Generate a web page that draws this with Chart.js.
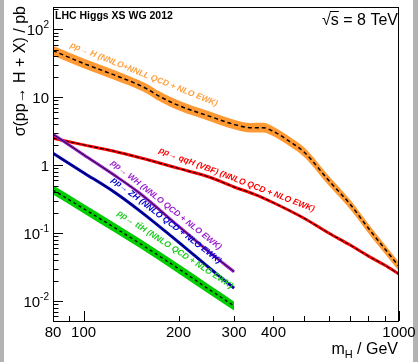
<!DOCTYPE html>
<html>
<head>
<meta charset="utf-8">
<script src="https://cdn.jsdelivr.net/npm/chart.js@4.4.1/dist/chart.umd.min.js"></script>
<style>
html, body { margin: 0; padding: 0; background: #fff; }
canvas { display: block; }
</style>
</head>
<body>
<canvas id="xsChart" width="418" height="362"></canvas>
<script>
// Higgs mass points (GeV) and cross sections (pb)
const massGgf = [80, 100, 125, 150, 160, 170, 200, 250, 300, 340, 370, 400, 450, 500, 600, 700, 800, 900, 1000];
const xsGgf     = [48.8, 31.6, 21.4, 15.2, 13.1, 11.0, 7.6, 5.3, 4.0, 3.57, 3.58, 3.15, 2.24, 1.57, 0.59, 0.267, 0.118, 0.0596, 0.0324];
const xsGgfUp   = [57.6, 37.3, 25.3, 17.9, 15.5, 13.0, 9.0, 6.25, 4.7, 4.2, 4.22, 3.7, 2.63, 1.84, 0.69, 0.31, 0.137, 0.069, 0.0375];
const xsGgfDown = [41.4, 26.8, 18.1, 12.9, 11.1, 9.3, 6.45, 4.5, 3.39, 3.03, 3.03, 2.67, 1.9, 1.33, 0.50, 0.226, 0.100, 0.0505, 0.0275];

const massVbf = [80, 100, 125, 150, 200, 250, 300, 350, 400, 500, 600, 700, 800, 900, 1000];
const xsVbf   = [2.50, 2.00, 1.61, 1.30, 0.90, 0.672, 0.479, 0.371, 0.281, 0.166, 0.0997, 0.067, 0.046, 0.034, 0.025];

const massAssoc = [80, 100, 125, 150, 200, 250, 300];
const xsWh      = [2.86, 1.43, 0.718, 0.394, 0.127, 0.053, 0.027];
const xsZh      = [1.50, 0.778, 0.404, 0.217, 0.074, 0.031, 0.0155];
const xsTth     = [0.433, 0.230, 0.122, 0.0718, 0.030, 0.0149, 0.0085];
const xsTthUp   = [0.507, 0.269, 0.143, 0.084, 0.0351, 0.0174, 0.0099];
const xsTthDown = [0.370, 0.197, 0.104, 0.0614, 0.0256, 0.0127, 0.0073];

const xTickValues = [80, 90, 100, 200, 300, 400, 500, 600, 700, 800, 900, 1000];
const xTickLabels = ['80', '', '100', '200', '300', '400', '', '', '', '', '', '1000'];
const xMajorTicks = [100, 1000];
const yDecades = [0.01, 0.1, 1, 10, 100];
const yTickBase = ['10', '10', '1', '10', '10'];
const yTickExp  = ['-2', '-1', '', '', '2'];

const ORANGE = '#ff9933';
const RED = '#ff0000';
const PURPLE = '#9a1fd0';
const BLUE = '#0000cc';
const GREEN = '#00cc00';

// label anchor given on the curve (m, xs), lifted a few px above it
const curveLabels = [
    { text: 'pp\u2192 H (NNLO+NNLL QCD + NLO EWK)', color: '#ffa040', m: 89.9, xs: 51.6, angle: 22, lift: 2 },
    { text: 'pp\u2192 qqH (VBF) (NNLO QCD + NLO EWK)', color: RED, m: 170.9, xs: 1.37, angle: 21, lift: 4 },
    { text: 'pp\u2192 WH (NNLO QCD + NLO EWK)', color: PURPLE, m: 119.5, xs: 0.944, angle: 38.5, lift: 4 },
    { text: 'pp\u2192 ZH (NNLO QCD + NLO EWK)', color: BLUE, m: 119.5, xs: 0.513, angle: 37.5, lift: 5 },
    { text: 'pp\u2192 tt\u0304H (NNLO QCD + NLO EWK)', color: '#22cc22', m: 125.8, xs: 0.173, angle: 33, lift: 3 }
];

const FONT = '"Liberation Sans", Arial, Helvetica, sans-serif';

function pts(ms, vals){
    return ms.map((m, i) => ({ x: m, y: vals[i] }));
}

function lineSet(data, color, width, order, dash){
    return {
        data: data,
        borderColor: color,
        borderWidth: width,
        borderDash: dash || [],
        pointRadius: 0,
        fill: false,
        cubicInterpolationMode: 'monotone',
        order: order
    };
}

function bandSet(data, color, order, fillTarget){
    return {
        data: data,
        borderWidth: 0,
        borderColor: 'rgba(0,0,0,0)',
        backgroundColor: color,
        pointRadius: 0,
        fill: fillTarget,
        cubicInterpolationMode: 'monotone',
        order: order
    };
}

const rootStyle = {
    id: 'rootStyle',
    beforeDraw(chart){
        const ctx = chart.ctx;
        ctx.save();
        ctx.fillStyle = '#fff';
        ctx.fillRect(0, 0, chart.width, chart.height);
        ctx.fillStyle = '#b3b3b3';
        ctx.fillRect(0, 0, 4, chart.height);
        ctx.fillRect(413, 0, chart.width - 413, chart.height);
        ctx.restore();
    },
    afterDatasetsDraw(chart){
        const ctx = chart.ctx;
        const xs = chart.scales.x;
        const ys = chart.scales.y;
        ctx.save();
        ctx.font = 'bold italic 8.5px ' + FONT;
        ctx.textAlign = 'left';
        ctx.textBaseline = 'alphabetic';
        curveLabels.forEach(l => {
            ctx.save();
            ctx.translate(xs.getPixelForValue(l.m), ys.getPixelForValue(l.xs));
            ctx.rotate(l.angle * Math.PI / 180);
            ctx.fillStyle = l.color;
            ctx.fillText(l.text, 0, -l.lift);
            ctx.restore();
        });
        ctx.restore();
    },
    afterDraw(chart){
        const ctx = chart.ctx;
        const a = chart.chartArea;
        const xs = chart.scales.x;
        const ys = chart.scales.y;
        ctx.save();

        // frame
        ctx.strokeStyle = '#000';
        ctx.lineWidth = 1;
        ctx.strokeRect(a.left + 0.5, a.top + 0.5, a.right - a.left - 1, a.bottom - a.top);

        // y ticks (inside, left only)
        ctx.beginPath();
        for(let e = -3; e <= 2; e++){
            for(let k = 1; k <= 9; k++){
                const v = k * Math.pow(10, e);
                if(v < ys.min || v > ys.max) continue;
                const y = Math.round(ys.getPixelForValue(v)) + 0.5;
                ctx.moveTo(a.left, y);
                ctx.lineTo(a.left + (k === 1 ? 10 : 5.5), y);
            }
        }
        // x ticks (inside, bottom only)
        xTickValues.forEach(m => {
            const x = Math.round(xs.getPixelForValue(m)) + 0.5;
            ctx.moveTo(x, a.bottom);
            ctx.lineTo(x, a.bottom - (xMajorTicks.includes(m) ? 10 : 5));
        });
        ctx.stroke();

        ctx.fillStyle = '#000';
        // x tick labels
        ctx.font = '15px ' + FONT;
        ctx.textAlign = 'center';
        ctx.textBaseline = 'alphabetic';
        xTickValues.forEach((m, i) => {
            if(!xTickLabels[i]) return;
            ctx.fillText(xTickLabels[i], xs.getPixelForValue(m), 337);
        });

        // y tick labels with exponents
        ctx.textAlign = 'left';
        yDecades.forEach((v, i) => {
            const y = ys.getPixelForValue(v);
            ctx.font = '15px ' + FONT;
            const wb = ctx.measureText(yTickBase[i]).width;
            ctx.font = '10px ' + FONT;
            const we = yTickExp[i] ? ctx.measureText(yTickExp[i]).width : 0;
            const x0 = 49 - wb - we;
            ctx.font = '15px ' + FONT;
            ctx.fillText(yTickBase[i], x0, y + 5.5);
            if(yTickExp[i]){
                ctx.font = '10px ' + FONT;
                ctx.fillText(yTickExp[i], x0 + wb, y - 1.5);
            }
        });

        // y axis title
        ctx.save();
        ctx.font = '16px ' + FONT;
        ctx.translate(25, 6);
        ctx.rotate(-Math.PI / 2);
        ctx.textAlign = 'right';
        ctx.fillText('\u03c3(pp\u2192 H + X) / pb', 0, 0);
        ctx.restore();

        // x axis title m_H / GeV
        ctx.textAlign = 'right';
        ctx.font = '16px ' + FONT;
        const tail = ' / GeV';
        const wTail = ctx.measureText(tail).width;
        ctx.fillText(tail, 398, 354);
        ctx.font = '11px ' + FONT;
        const wSub = ctx.measureText('H').width;
        ctx.fillText('H', 398 - wTail, 358);
        ctx.font = '16px ' + FONT;
        ctx.fillText('m', 398 - wTail - wSub, 354);

        // top-left tag
        ctx.textAlign = 'left';
        ctx.font = 'bold 10.5px ' + FONT;
        ctx.fillText('LHC Higgs XS WG 2012', 55, 18.5);

        // sqrt(s) = 8 TeV
        ctx.font = '16px ' + FONT;
        const full = '\u221as = 8 TeV';
        const wFull = ctx.measureText(full).width;
        const xStart = 398 - wFull;
        ctx.fillText(full, xStart, 25);
        const wRad = ctx.measureText('\u221a').width;
        const wS = ctx.measureText('s').width;
        ctx.beginPath();
        ctx.lineWidth = 1;
        ctx.moveTo(xStart + wRad - 1, 11.5);
        ctx.lineTo(xStart + wRad + wS, 11.5);
        ctx.stroke();

        ctx.restore();
    }
};

const ggfLine = pts(massGgf, xsGgf);
const vbfLine = pts(massVbf, xsVbf);
const whLine = pts(massAssoc, xsWh);
const zhLine = pts(massAssoc, xsZh);
const tthLine = pts(massAssoc, xsTth);

new Chart(document.getElementById('xsChart'), {
    type: 'line',
    data: {
        datasets: [
            // ttH band + central
            lineSet(tthLine, '#000', 1.3, 1, [3, 3]),
            bandSet(pts(massAssoc, xsTthUp), GREEN, 2, '+1'),
            bandSet(pts(massAssoc, xsTthDown), 'rgba(0,0,0,0)', 3, false),
            // ZH
            lineSet(zhLine, '#000', 0.8, 4),
            lineSet(zhLine, BLUE, 3, 5),
            // WH
            lineSet(whLine, '#000', 0.8, 6),
            lineSet(whLine, PURPLE, 3, 7),
            // VBF
            lineSet(vbfLine, '#000', 1, 8, [4, 2]),
            lineSet(vbfLine, RED, 3, 9),
            // ggF band + central
            lineSet(ggfLine, '#000', 1.5, 10, [4, 3]),
            bandSet(pts(massGgf, xsGgfUp), ORANGE, 11, '+1'),
            bandSet(pts(massGgf, xsGgfDown), 'rgba(0,0,0,0)', 12, false)
        ]
    },
    options: {
        responsive: false,
        animation: false,
        devicePixelRatio: 1,
        layout: { padding: { left: 53, right: 19, top: 7, bottom: 41 } },
        scales: {
            x: { type: 'logarithmic', min: 80, max: 1000, display: false },
            y: { type: 'logarithmic', min: 0.0051, max: 214, display: false }
        },
        plugins: {
            legend: { display: false },
            tooltip: { enabled: false },
            filler: { propagate: false }
        }
    },
    plugins: [rootStyle]
});
</script>
</body>
</html>
